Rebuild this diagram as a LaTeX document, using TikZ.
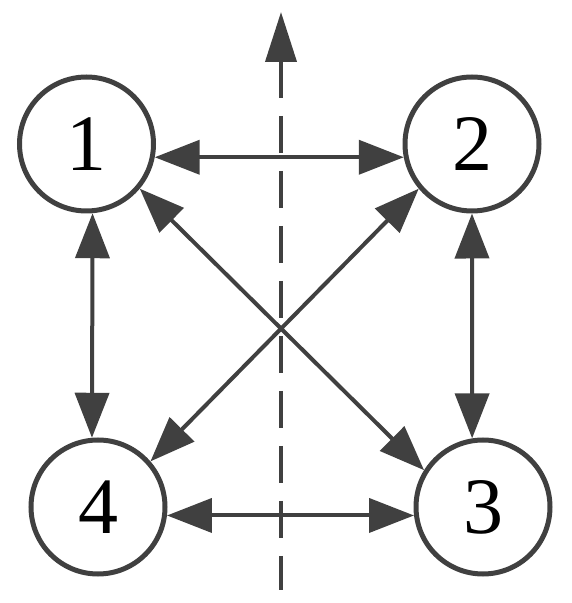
\documentclass[tikz,border=0pt]{standalone}
\usepackage{fontspec}
\setmainfont{Liberation Serif}
\usetikzlibrary{arrows.meta}
\definecolor{ink}{HTML}{404040}
\begin{document}
\begin{tikzpicture}[x=1pt,y=1pt,
  state/.style={circle,draw=ink,line width=5pt,minimum size=134pt,inner sep=0pt,
    font=\fontsize{80}{80}\selectfont,text=black},
  link/.style={draw=ink,line width=4pt,
    {Triangle[length=45pt,width=34pt]}-{Triangle[length=45pt,width=34pt]}},
  axis/.style={draw=ink,line width=4pt,dash pattern=on 37pt off 18pt,
    {Triangle[length=50pt,width=31pt]}-}]
\useasboundingbox (0,0) rectangle (572,603);
\node[state] (n1) at (86.5,459) {1};
\node[state] (n2) at (472,459) {2};
\node[state] (n4) at (98,96) {4};
\node[state] (n3) at (483,96) {3};
\coordinate (top) at (281,591);
\coordinate (bot) at (281,13);
\draw[axis] (top) -- (bot);
\draw[link] (n1.-11) -- (n2.191);
\draw[link] (n4.-7) -- (n3.187);
\draw[link] (n1.-85) -- (n4.95);
\draw[link] (n2.-90) -- (n3.99);
\draw[link] (n1.-40) -- (n3.148);
\draw[link] (n2.220) -- (n4.41);
\end{tikzpicture}
\end{document}
